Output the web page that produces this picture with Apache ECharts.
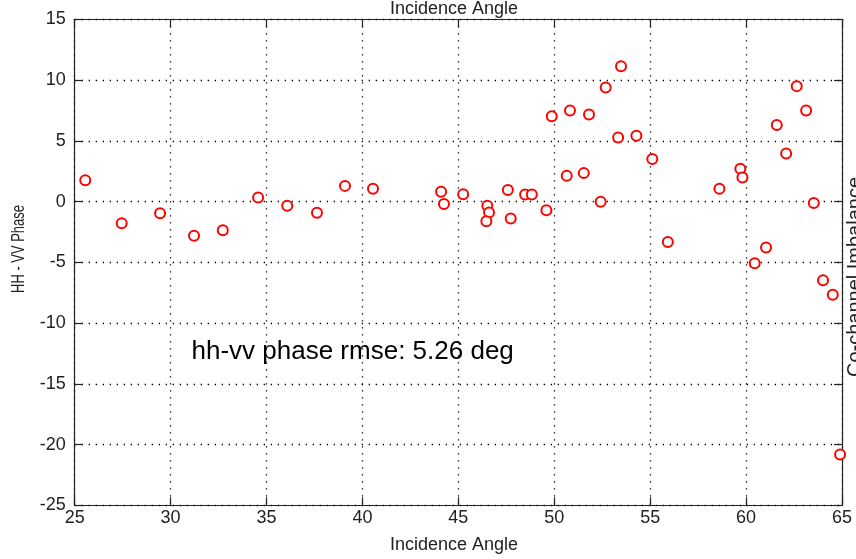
<!DOCTYPE html>
<html>
<head>
<meta charset="utf-8">
<script src="https://cdn.jsdelivr.net/npm/echarts@6/dist/echarts.min.js"></script>
<style>html,body{margin:0;padding:0;background:#fff;}#c{width:856px;height:559px;}</style>
</head>
<body>
<div id="c"></div>
<script>
// Incidence angle (deg)
var incidenceAngle = [25.55, 27.45, 29.45, 31.22, 32.72, 34.56, 36.08, 37.63, 39.09, 40.55,
  44.10, 44.25, 45.25, 46.51, 46.60, 46.46, 47.58, 47.73, 48.48, 48.83,
  49.59, 50.65, 49.87, 50.82, 51.54, 52.42, 51.81, 52.68, 53.48, 53.33,
  54.28, 55.11, 55.92, 58.61, 59.70, 59.81, 60.45, 61.04, 61.60, 62.09,
  62.64, 63.13, 63.53, 64.01, 64.52, 64.90];
// HH - VV phase (deg)
var hhvvPhase = [1.76, -1.78, -0.96, -2.82, -2.36, 0.33, -0.35, -0.93, 1.29, 1.05,
  0.80, -0.21, 0.61, -0.35, -0.90, -1.62, 0.96, -1.40, 0.58, 0.58,
  -0.71, 2.12, 7.03, 7.49, 2.34, -0.02, 7.16, 9.38, 11.14, 5.27,
  5.41, 3.51, -3.32, 1.05, 2.69, 1.98, -5.07, -3.78, 6.31, 3.95,
  9.50, 7.49, -0.11, -6.47, -7.68, -20.82];
var xTicks = {min: 25, max: 65, interval: 5};
var yTicks = {min: -25, max: 15, interval: 5};
var annotation = 'hh-vv phase rmse: 5.26 deg';
var xName = 'Incidence Angle';
var yName = 'HH - VV Phase';
var rightName = 'Co-channel Imbalance';

var FONT = '"Liberation Sans", Arial, sans-serif';
var points = incidenceAngle.map(function (x, i) { return [x, hhvvPhase[i]]; });

var axisLine = {show: true, onZero: false, lineStyle: {color: '#222', width: 1.2}};
var axisTick = {show: true, inside: true, length: 8, lineStyle: {color: '#222', width: 1.2}};
var splitLine = {show: true, lineStyle: {color: '#000', width: 1.3, type: [1.3, 5.7]}};

var chart = echarts.init(document.getElementById('c'), null, {renderer: 'canvas'});
chart.setOption({
  animation: false,
  backgroundColor: '#fff',
  grid: {left: 74.7, right: 14, top: 19.3, bottom: 53.7, outerBoundsMode: 'none', containLabel: false},
  xAxis: [{
    type: 'value', position: 'bottom', min: xTicks.min, max: xTicks.max, interval: xTicks.interval,
    axisLine: axisLine, axisTick: axisTick, splitLine: splitLine,
    axisLabel: {color: '#222', fontSize: 18, fontFamily: FONT, margin: 4}
  }, {
    type: 'value', position: 'top', min: xTicks.min, max: xTicks.max, interval: xTicks.interval,
    axisLine: axisLine, axisTick: axisTick, splitLine: {show: false}, axisLabel: {show: false}
  }],
  yAxis: [{
    type: 'value', position: 'left', min: yTicks.min, max: yTicks.max, interval: yTicks.interval,
    axisLine: axisLine, axisTick: axisTick, splitLine: splitLine,
    axisLabel: {color: '#222', fontSize: 18, fontFamily: FONT, margin: 9}
  }, {
    type: 'value', position: 'right', min: yTicks.min, max: yTicks.max, interval: yTicks.interval,
    axisLine: axisLine, axisTick: axisTick, splitLine: {show: false}, axisLabel: {show: false}
  }],
  series: [{
    type: 'scatter',
    xAxisIndex: 0, yAxisIndex: 0,
    data: points,
    symbol: 'emptyCircle',
    symbolSize: 10,
    clip: false,
    itemStyle: {color: '#ff0000', borderColor: '#ff0000', borderWidth: 1.1, opacity: 1}
  }],
  graphic: [
    {type: 'text', x: 454, y: 9, style: {text: xName, fill: '#222', font: '18px ' + FONT, align: 'center', verticalAlign: 'middle'}},
    {type: 'text', x: 454, y: 545.5, style: {text: xName, fill: '#222', font: '18px ' + FONT, align: 'center', verticalAlign: 'middle'}},
    {type: 'text', x: 19, y: 249, rotation: Math.PI / 2, scaleX: 0.72, style: {text: yName, fill: '#222', font: '18px ' + FONT, align: 'center', verticalAlign: 'middle'}},
    {type: 'text', x: 845, y: 277, rotation: Math.PI / 2, style: {text: rightName, fill: '#222', font: '20px ' + FONT, align: 'center', verticalAlign: 'top'}},
    {type: 'text', x: 191.5, y: 352.3, style: {text: annotation, fill: '#000', font: '26px ' + FONT, align: 'left', verticalAlign: 'middle'}}
  ]
});
</script>
</body>
</html>
